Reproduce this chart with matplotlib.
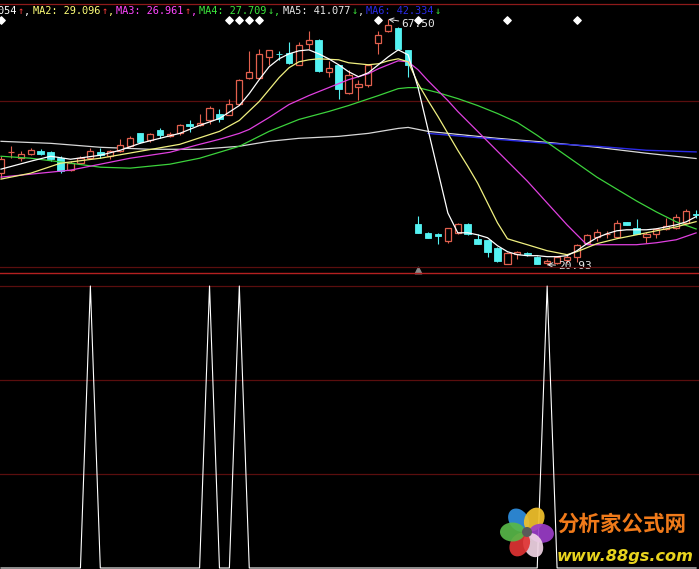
import matplotlib
matplotlib.use('Agg')
import matplotlib.pyplot as plt
from matplotlib.patches import Ellipse
from matplotlib.lines import Line2D
from matplotlib.transforms import IdentityTransform
import numpy as np

W, H, DPI = 699, 569, 100

# ---------------- data ----------------
opens = [38.30, 42.30, 41.10, 41.90, 42.45, 42.30, 41.10, 38.90, 40.20, 41.10,
         42.30, 41.50, 42.45, 43.40, 45.85, 44.50, 46.40, 45.30, 45.85, 47.70,
         47.40, 48.30, 49.60, 49.40, 51.50, 56.40, 56.40, 60.40, 61.00, 61.10,
         58.90, 62.80, 63.60, 57.55, 58.90, 53.60, 54.70, 55.10, 63.00, 65.30,
         65.85, 61.70, 28.70, 27.00, 26.80, 25.50, 27.00, 28.70, 25.85, 25.70,
         24.15, 21.10, 23.00, 23.20, 22.45, 21.30, 21.30, 21.90, 22.45, 25.10,
         26.20, 26.70, 26.20, 29.10, 27.90, 26.20, 26.80, 27.70, 27.90, 28.90,
         30.60]
highs = [41.50, 43.40, 42.50, 43.00, 42.80, 42.50, 41.50, 40.60, 41.50, 43.00,
         43.00, 42.60, 44.70, 45.30, 46.00, 46.00, 46.80, 46.20, 47.60, 48.30,
         49.60, 51.10, 50.40, 52.30, 56.20, 61.50, 61.90, 61.70, 61.50, 63.20,
         63.20, 65.30, 63.80, 59.60, 58.90, 57.90, 56.00, 59.10, 65.30, 67.50,
         66.00, 61.70, 30.20, 27.20, 27.00, 27.90, 28.90, 28.90, 26.80, 25.70,
         24.30, 23.40, 23.50, 23.40, 22.60, 22.10, 22.60, 23.00, 24.90, 26.80,
         27.70, 27.40, 29.40, 29.10, 29.60, 27.20, 27.90, 29.80, 30.60, 31.50,
         31.30]
lows = [37.36, 41.10, 40.60, 41.70, 41.70, 40.60, 38.30, 38.70, 40.00, 40.90,
        41.10, 40.90, 42.30, 43.20, 44.00, 44.30, 44.90, 45.10, 45.60, 46.20,
        47.20, 47.70, 48.10, 49.40, 51.50, 56.20, 56.20, 58.90, 59.80, 59.10,
        58.90, 61.90, 57.55, 56.60, 52.30, 53.40, 52.10, 54.70, 60.90, 65.10,
        61.70, 56.60, 27.00, 25.90, 24.90, 25.10, 26.80, 26.60, 24.90, 22.30,
        21.50, 21.00, 22.10, 22.50, 21.00, 20.93, 21.10, 21.30, 21.50, 24.90,
        25.50, 26.00, 26.00, 28.50, 26.80, 25.10, 26.00, 27.50, 27.70, 28.90,
        29.80]
closes = [40.94, 42.40, 41.90, 42.60, 41.90, 40.90, 38.70, 40.20, 41.10, 42.45,
          41.70, 42.45, 43.60, 44.90, 44.30, 45.70, 45.50, 45.70, 47.40, 47.20,
          47.90, 50.60, 48.50, 51.50, 56.00, 57.55, 60.90, 61.70, 60.90, 59.25,
          62.60, 63.60, 57.70, 58.30, 54.30, 57.00, 55.30, 58.90, 64.50, 66.40,
          61.90, 58.90, 27.00, 26.00, 26.40, 27.90, 28.70, 26.80, 24.90, 23.40,
          21.70, 23.20, 23.40, 23.00, 21.10, 21.70, 22.30, 22.30, 24.70, 26.60,
          27.20, 26.80, 28.90, 28.50, 26.80, 26.80, 27.70, 28.30, 30.00, 31.10,
          30.40]

ma1_idx = [0, 3, 5, 7, 10, 12, 14, 16, 18, 20, 22, 24, 25, 26, 27, 28, 29, 30, 31, 32,
           33, 34, 35, 36, 37, 38, 39, 40, 41, 42, 43, 44, 45, 46, 47, 48, 49, 50, 51, 52,
           53, 54, 55, 56, 57, 58, 59, 60, 61, 62, 63, 64, 65, 66, 67, 68, 69, 70]
ma1_val = [39.06, 40.57, 41.51, 40.94, 41.70, 42.64, 43.96, 44.91, 45.85, 47.36, 48.68,
           51.13, 53.40, 56.04, 58.49, 60.00, 60.94, 61.51, 61.70, 60.94, 60.00, 58.87,
           57.55, 56.60, 57.36, 58.87, 60.38, 61.70, 60.75, 54.53, 46.60, 38.68, 30.75,
           26.98, 26.98, 26.60, 26.04, 24.53, 23.40, 22.83, 22.64, 22.64, 22.45, 22.45,
           22.64, 23.58, 24.91, 26.04, 26.79, 27.36, 27.55, 27.55, 27.55, 27.74, 28.11,
           28.49, 29.06, 30.05]

ma2_idx = [0, 3, 6, 10, 14, 18, 22, 24, 26, 27, 28, 29, 30, 31, 32, 34, 35, 36, 37, 38,
           39, 40, 41, 42, 43, 44, 45, 46, 47, 48, 49, 50, 51, 52, 53, 54, 55, 56, 57, 58,
           59, 60, 62, 64, 66, 68, 70]
ma2_val = [37.17, 38.30, 40.19, 41.13, 42.45, 43.77, 46.23, 48.30, 51.89, 54.15, 56.42,
           58.30, 59.43, 59.81, 60.00, 59.81, 59.25, 59.06, 58.87, 59.06, 59.62, 60.00,
           59.43, 55.28, 52.08, 49.06, 45.85, 42.64, 39.62, 36.42, 32.64, 28.87, 25.85,
           25.28, 24.72, 24.15, 23.58, 23.21, 22.83, 23.40, 24.15, 24.91, 25.85, 26.60,
           27.36, 28.11, 29.10]

ma3_idx = [0, 3, 7, 10, 13, 17, 20, 22, 24, 25, 27, 29, 31, 33, 35, 37, 38, 39, 40, 41,
           42, 43, 44, 45, 46, 48, 50, 52, 53, 54, 55, 56, 57, 58, 59, 60, 62, 64, 66, 68, 70]
ma3_val = [37.55, 38.11, 38.87, 40.00, 41.13, 42.26, 43.77, 44.72, 45.85, 46.60, 48.87,
           51.32, 53.02, 54.53, 56.04, 57.17, 58.11, 58.87, 59.62, 59.43, 57.92, 55.85,
           53.96, 52.08, 50.00, 46.23, 42.45, 38.68, 36.79, 34.72, 32.64, 30.57, 28.49,
           26.60, 24.72, 24.72, 24.72, 24.72, 25.09, 25.66, 26.96]

ma4_idx = [0, 3, 7, 10, 13, 17, 20, 24, 27, 30, 33, 35, 38, 40, 41, 42, 44, 46, 48, 50,
           52, 54, 56, 58, 60, 62, 64, 66, 68, 70]
ma4_val = [41.51, 41.13, 40.19, 39.43, 39.25, 40.00, 41.13, 43.40, 46.23, 48.49, 50.00,
           51.13, 53.02, 54.34, 54.53, 54.53, 53.58, 52.45, 51.13, 49.62, 47.92, 45.47,
           42.83, 40.19, 37.55, 35.28, 33.02, 30.94, 29.06, 27.71]

ma5_idx = [0, 5, 10, 15, 20, 24, 27, 30, 34, 37, 40, 41, 43, 46, 50, 55, 60, 65, 70]
ma5_val = [44.34, 43.96, 43.21, 42.83, 42.83, 43.40, 44.34, 44.91, 45.28, 45.85, 46.79,
           46.98, 46.23, 45.66, 44.91, 44.15, 43.21, 42.08, 41.08]

ma6_idx = [43, 50, 55, 60, 65, 70]
ma6_val = [45.85, 44.72, 43.96, 43.40, 42.64, 42.33]

signal_bars = [9, 21, 24, 55]
signal_level = 3
marker_bars = [0, 23, 24, 25, 26, 38, 42, 51, 58]
exright_bar = 42

hi_label = "67.50"
lo_label = "20.93"

header = [
    ("MA1: 30.054", "#FFFFFF", "\u2191", "#FF3C3C", ",", "#FFFFFF"),
    ("MA2: 29.096", "#FFFF78", "\u2191", "#FF3C3C", ",", "#FFFF78"),
    ("MA3: 26.961", "#FF46FF", "\u2191", "#FF3C3C", ",", "#FF46FF"),
    ("MA4: 27.709", "#3CE63C", "\u2193", "#3CE63C", ",", "#3CE63C"),
    ("MA5: 41.077", "#E6E6E6", "\u2193", "#3CE63C", ",", "#E6E6E6"),
    ("MA6: 42.334", "#2A2AE6", "\u2193", "#3CE63C", "", "#2A2AE6"),
]
header_x = [None, 33, 116, 199, 283, 366]

# ---------------- figure ----------------
fig = plt.figure(figsize=(W / DPI, H / DPI), dpi=DPI, facecolor='black')


def rect(x0, y0, x1, y1):
    return [x0 / W, 1 - y1 / H, (x1 - x0) / W, (y1 - y0) / H]


px_per_bar = 9.93
x0_bar = -1 / px_per_bar
x1_bar = (W - 1) / px_per_bar

ax = fig.add_axes(rect(0, 4, W, 267), facecolor='black')
ax.set_xlim(x0_bar, x1_bar)
ax.set_ylim(20.49, 70.40)
ax.axis('off')

UP = '#E2604E'
DN = '#54F2F2'
n = len(opens)
idx = np.arange(n)
o = np.array(opens); c = np.array(closes); h = np.array(highs); l = np.array(lows)
up = c >= o
col = np.where(up, UP, DN)
ax.vlines(idx, l, h, colors=col, lw=0.8, zorder=3)
bot = np.minimum(o, c)
ht = np.maximum(np.abs(c - o), 0.02)
ax.bar(idx[up], ht[up], bottom=bot[up], width=0.62, facecolor='black',
       edgecolor=UP, linewidth=0.9, zorder=4)
ax.bar(idx[~up], ht[~up], bottom=bot[~up], width=0.66, facecolor=DN,
       edgecolor=DN, linewidth=0.6, zorder=4)

ax.plot(ma5_idx, ma5_val, color='#D8D8D8', lw=0.9, zorder=2)
ax.plot(ma6_idx, ma6_val, color='#2A2AE6', lw=1.0, zorder=2)
ax.plot(ma4_idx, ma4_val, color='#3CD23C', lw=0.9, zorder=5)
ax.plot(ma3_idx, ma3_val, color='#E040E0', lw=0.9, zorder=5)
ax.plot(ma2_idx, ma2_val, color='#F0F080', lw=0.9, zorder=5)
ax.plot(ma1_idx, ma1_val, color='#FFFFFF', lw=0.9, zorder=6)

# signal diamonds along the top
tr = ax.get_xaxis_transform()
ax.scatter(marker_bars, [0.939] * len(marker_bars), transform=tr, marker='D',
           s=14, color='white', zorder=7, clip_on=False)
ax.scatter([exright_bar], [-0.012], transform=tr, marker='^', s=22,
           color='#8A8A8A', zorder=7, clip_on=False)

# high / low labels
hi_i = int(np.argmax(h)); lo_i = int(np.argmin(l))
ax.annotate(hi_label, xy=(hi_i, h[hi_i]), xytext=(9.5, -3.5), textcoords='offset points',
            color='#E8E8E8', fontsize=8, family='DejaVu Sans Mono', va='center', ha='left',
            arrowprops=dict(arrowstyle='->', color='#E8E8E8', lw=0.7, shrinkA=0, shrinkB=0),
            zorder=8)
ax.annotate(lo_label, xy=(lo_i, l[lo_i]), xytext=(8, -1), textcoords='offset points',
            color='#E8E8E8', fontsize=8, family='DejaVu Sans Mono', va='center', ha='left',
            arrowprops=dict(arrowstyle='->', color='#E8E8E8', lw=0.7, shrinkA=0, shrinkB=0),
            zorder=8)

# lower indicator panel
sig = np.zeros(n)
sig[signal_bars] = signal_level
ax2 = fig.add_axes(rect(0, 273, W, 569), facecolor='black')
ax2.set_xlim(x0_bar, x1_bar)
ax2.set_ylim(-1 / 94, 3 + 13 / 94)
ax2.axis('off')
for g in (1, 2, 3):
    ax2.axhline(g, color='#5A0E0E', lw=0.9, zorder=1)
ax2.plot(idx, sig, color='white', lw=0.8, zorder=3)


def hline(y, color, lw=0.9):
    fig.add_artist(Line2D([0, 1], [1 - y / H, 1 - y / H], transform=fig.transFigure,
                          color=color, lw=lw))


hline(4, '#8E1A1A')
hline(267, '#5A0E0E')
hline(273, '#B42020', 1.0)
ax.axhline((375 - 101) / 5.27, color='#5A0E0E', lw=0.9, zorder=1)

# header
fs = 7.35
cw = 6.15
for (lab, lc, arr, ac, com, cc), xs in zip(header, header_x):
    if xs is None:
        xs = 17 - len(lab) * cw
    fig.text(xs / W, 1 - 11.5 / H, lab, color=lc, fontsize=fs, family='DejaVu Sans Mono',
             va='center', ha='left')
    xa = xs + len(lab) * cw + 0.5
    fig.text(xa / W, 1 - 11.5 / H, arr, color=ac, fontsize=fs, family='DejaVu Sans Mono',
             va='center', ha='left')
    if com:
        fig.text((xa + cw + 0.5) / W, 1 - 11.5 / H, com, color=cc, fontsize=fs,
                 family='DejaVu Sans Mono', va='center', ha='left')

# watermark (display pixel transform, origin bottom-left)
ident = IdentityTransform()


def dp(x, y):
    return (x, H - y)


cx0, cy0 = 527, 532
petals = [(-125, '#2F8FE0'), (-60, '#F2C22C'), (5, '#9A3CC8'),
          (65, '#F0D4E4'), (120, '#E03434'), (180, '#58B848')]
for ang, pc in petals:
    r = 14.5
    a = np.deg2rad(ang)
    px_ = cx0 + r * np.cos(a)
    py_ = cy0 + r * np.sin(a)
    e = Ellipse(dp(px_, py_), width=25, height=19, angle=-ang, transform=ident,
                facecolor=pc, edgecolor='none', alpha=0.92, zorder=20)
    fig.add_artist(e)
fig.add_artist(Ellipse(dp(cx0, cy0), width=10, height=10, transform=ident,
                       facecolor='#5A5A5A', edgecolor='none', zorder=21))
fig.text(557 / W, 1 - 524 / H, "分析家公式网", color='#F07A1A', fontsize=15.5,
         family=['Noto Sans CJK SC', 'DejaVu Sans'], fontweight='bold', va='center',
         ha='left', zorder=22)
fig.text(557 / W, 1 - 556 / H, "www.88gs.com", color='#E8D41E', fontsize=11.6,
         family='DejaVu Sans', fontweight='bold', style='italic', va='center',
         ha='left', zorder=22)

fig.savefig('out.png', dpi=DPI, facecolor='black')
